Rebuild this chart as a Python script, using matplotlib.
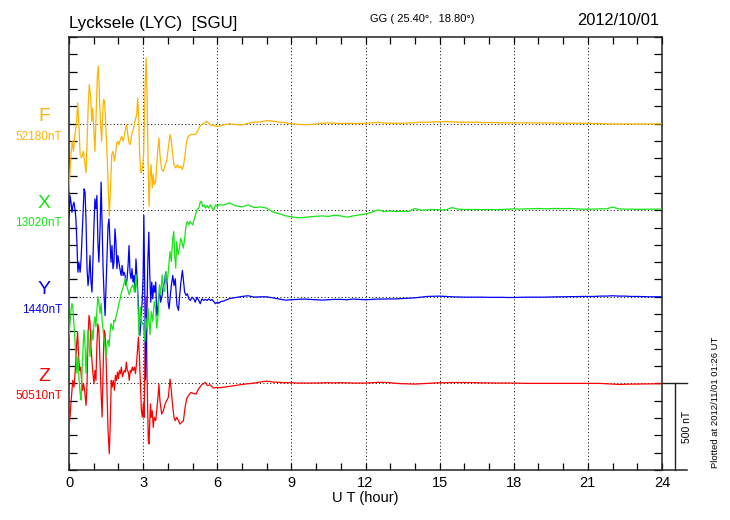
import numpy as np
import matplotlib
matplotlib.use("Agg")
import matplotlib.pyplot as plt
from matplotlib.transforms import blended_transform_factory

plt.rcParams['font.family'] = ['Liberation Sans', 'DejaVu Sans']

# --- data (nT deviation from each component's base value) ---
components = ["F", "X", "Y", "Z"]
base_labels = ["52180nT", "13020nT", "1440nT", "50510nT"]
colors = ["#FFB300", "#14E614", "#0000FF", "#FF0000"]
offsets = [1500, 1000, 500, 0]

f_hours = [0.00, 0.08, 0.13, 0.18, 0.24, 0.31, 0.35, 0.40, 0.45, 0.51, 0.58, 0.65, 0.69,
           0.74, 0.78, 0.82, 0.88, 0.92, 0.96, 1.01, 1.05, 1.09, 1.15, 1.19, 1.23, 1.27,
           1.32, 1.36, 1.40, 1.44, 1.48, 1.54, 1.59, 1.63, 1.69, 1.73, 1.78, 1.84, 1.88,
           1.93, 1.97, 2.02, 2.08, 2.13, 2.20, 2.27, 2.33, 2.38, 2.43, 2.48, 2.54, 2.60,
           2.67, 2.74, 2.78, 2.82, 2.86, 2.91, 2.97, 3.02, 3.08, 3.12, 3.16, 3.20, 3.24,
           3.28, 3.32, 3.37, 3.41, 3.45, 3.51, 3.55, 3.59, 3.64, 3.68, 3.75, 3.82, 3.89,
           3.95, 4.02, 4.09, 4.13, 4.18, 4.25, 4.32, 4.39, 4.45, 4.52, 4.59, 4.64, 4.70,
           4.76, 4.83, 4.94, 5.03, 5.13, 5.24, 5.30, 5.37, 5.48, 5.57, 5.64, 5.71, 5.78,
           5.84, 5.91, 6.05]
f_vals = [-390, -179, -102, -160, -63, 13, 119, -6, -179, -198, -160, -237, -285,
          -63, 110, 225, 148, 13, 90, -44, -160, 13, 283, 331, 167, 13,
          -102, 52, 138, 129, 13, -179, -371, -535, -333, -179, -160, -217, -179,
          -112, -102, -121, -92, -73, -102, -44, -6, -63, -112, -121, -63, -35,
          13, 52, 148, 33, -179, -285, -265, -179, 206, 379, 167, -217, -477,
          -313, -237, -371, -294, -352, -333, -237, -160, -83, -179, -265, -275, -237,
          -217, -140, -63, -83, -160, -237, -256, -237, -256, -246, -265, -237, -179,
          -102, -73, -63, -63, -60, -35, -15, -6, 4, 13, 4, -6, -12,
          -6, -15, -15]

x_hours = [0.00, 0.04, 0.08, 0.12, 0.16, 0.20, 0.24, 0.28, 0.32, 0.36, 0.40, 0.45, 0.49,
           0.53, 0.57, 0.61, 0.65, 0.69, 0.73, 0.77, 0.81, 0.85, 0.89, 0.93, 0.97, 1.01,
           1.05, 1.09, 1.13, 1.17, 1.21, 1.26, 1.30, 1.34, 1.38, 1.42, 1.46, 1.50, 1.54,
           1.58, 1.62, 1.66, 1.70, 1.74, 1.78, 1.82, 1.86, 1.90, 1.94, 1.98, 2.02, 2.06,
           2.11, 2.15, 2.20, 2.28, 2.36, 2.44, 2.51, 2.58, 2.65, 2.71, 2.78, 2.83, 2.89,
           2.94, 3.00, 3.07, 3.11, 3.17, 3.20, 3.28, 3.33, 3.39, 3.45, 3.50, 3.55, 3.61,
           3.66, 3.71, 3.77, 3.82, 3.87, 3.92, 3.98, 4.03, 4.09, 4.14, 4.20, 4.24, 4.28,
           4.32, 4.36, 4.41, 4.47, 4.52, 4.57, 4.63, 4.68, 4.74, 4.79, 4.85, 4.90, 4.95,
           5.01, 5.06, 5.12, 5.18, 5.25, 5.32, 5.36, 5.41, 5.47, 5.52, 5.59, 5.65, 5.72,
           5.79, 5.86, 5.93, 6.00, 6.06]
x_vals = [-731, -654, -577, -538, -567, -654, -750, -846, -942, -846, -962, -1058, -1096,
          -923, -788, -692, -788, -942, -808, -692, -750, -846, -788, -692, -750, -654,
          -615, -673, -577, -500, -538, -596, -538, -635, -692, -750, -788, -846, -769,
          -750, -788, -712, -654, -673, -692, -635, -644, -615, -596, -567, -538, -519,
          -481, -462, -440, -392, -450, -488, -450, -431, -470, -373, -488, -719, -560,
          -640, -662, -758, -623, -700, -565, -719, -585, -642, -527, -565, -681, -604,
          -431, -488, -373, -450, -469, -354, -412, -335, -238, -296, -162, -123, -258,
          -335, -181, -258, -219, -162, -181, -219, -162, -85, -65, -85, -65, -75,
          -85, -56, -27, 2, 12, 50, 50, 21, 31, 12, 27, 12, 31,
          12, 2, 31, 21, 31]

y_hours = [0.00, 0.04, 0.08, 0.12, 0.16, 0.20, 0.24, 0.28, 0.32, 0.36, 0.40, 0.45, 0.49,
           0.53, 0.57, 0.61, 0.65, 0.69, 0.73, 0.77, 0.81, 0.85, 0.89, 0.93, 0.97, 1.01,
           1.05, 1.09, 1.13, 1.17, 1.21, 1.26, 1.30, 1.34, 1.38, 1.42, 1.46, 1.50, 1.54,
           1.58, 1.62, 1.66, 1.70, 1.74, 1.78, 1.82, 1.86, 1.90, 1.94, 1.98, 2.02, 2.06,
           2.11, 2.15, 2.19, 2.23, 2.27, 2.31, 2.35, 2.39, 2.43, 2.47, 2.51, 2.55, 2.59,
           2.63, 2.67, 2.71, 2.75, 2.79, 2.83, 2.87, 2.91, 2.96, 3.00, 3.03, 3.07, 3.10,
           3.14, 3.19, 3.23, 3.27, 3.31, 3.35, 3.39, 3.43, 3.47, 3.51, 3.55, 3.59, 3.63,
           3.67, 3.71, 3.77, 3.82, 3.87, 3.91, 3.97, 4.01, 4.05, 4.09, 4.14, 4.20, 4.25,
           4.30, 4.37, 4.43, 4.48, 4.53, 4.59, 4.64, 4.68, 4.74, 4.79, 4.85, 4.91, 4.98,
           5.05, 5.11, 5.18, 5.25, 5.31, 5.38, 5.45, 5.52, 5.59, 5.65, 5.72, 5.79, 5.86,
           5.93, 6.00, 6.06, 6.14]
y_vals = [460, 585, 546, 488, 527, 546, 508, 450, 315, 142, 200, 142, 219,
          354, 488, 623, 604, 431, 162, 65, 123, 238, 85, 27, 219, 411,
          565, 508, 585, 315, 200, 411, 662, 411, 162, 8, -108, 65, 219,
          411, 450, 315, 200, 296, 162, 200, 392, 315, 162, 238, 200, 162,
          123, 181, 123, 142, 123, 65, 104, 181, 296, 142, 104, 162, 85,
          123, 27, 219, 123, 8, -127, -223, -146, -31, 123, 470, 0, -480,
          -200, 200, 373, 123, -31, 85, -12, 65, 27, 85, -108, -69, -12,
          46, -31, 8, 65, 85, 142, 85, -31, -69, -12, 65, 123, 65,
          104, -50, -79, 8, 85, 152, 85, 27, 8, 17, -12, -21, -2,
          -12, -31, -2, -21, -40, -12, -21, -15, -21, -12, -21, -15, -27,
          -40, -31, -37, -27]

z_hours = [0.00, 0.04, 0.09, 0.15, 0.20, 0.26, 0.31, 0.35, 0.39, 0.43, 0.47, 0.51, 0.55,
           0.59, 0.63, 0.69, 0.73, 0.77, 0.81, 0.85, 0.89, 0.93, 0.97, 1.01, 1.05, 1.09,
           1.13, 1.17, 1.21, 1.26, 1.30, 1.34, 1.38, 1.42, 1.46, 1.50, 1.54, 1.58, 1.63,
           1.67, 1.71, 1.75, 1.79, 1.84, 1.88, 1.92, 1.96, 2.00, 2.04, 2.08, 2.12, 2.16,
           2.20, 2.24, 2.28, 2.32, 2.36, 2.40, 2.44, 2.48, 2.52, 2.56, 2.60, 2.65, 2.69,
           2.73, 2.77, 2.81, 2.85, 2.89, 2.93, 2.97, 3.01, 3.04, 3.08, 3.12, 3.16, 3.21,
           3.24, 3.27, 3.30, 3.33, 3.37, 3.41, 3.45, 3.51, 3.56, 3.60, 3.64, 3.68, 3.75,
           3.82, 3.89, 3.95, 4.02, 4.09, 4.14, 4.20, 4.25, 4.30, 4.36, 4.43, 4.49, 4.56,
           4.63, 4.70, 4.76, 4.83, 4.94, 5.03, 5.14, 5.24, 5.37, 5.51, 5.61, 5.71, 5.84,
           5.98, 6.10]
z_vals = [-252, -194, -98, 17, -21, 85, 229, 296, 152, 75, 94, 17, -40,
          -2, -40, -127, -2, 267, 392, 354, 210, 133, 56, -2, 75, 17,
          229, 344, 306, 94, -60, -194, 75, 306, 287, 152, -60, -271, -406,
          -233, 17, -21, 17, -40, 46, 17, 65, 27, 75, 56, 94, 38,
          56, 75, 65, 123, 75, 65, 17, 75, 65, 94, 75, 94, 56,
          113, 190, 267, 152, -2, -156, -194, -117, -196, 200, 500, 35, -331,
          -350, -215, -119, -196, -158, -254, -196, -215, -138, -81, -4, -100, -177,
          -158, -119, -100, -81, 25, -42, -138, -196, -215, -196, -215, -235, -225,
          -215, -138, -90, -71, -52, -58, -62, -33, -8, 6, -13, -8, -27,
          -23, -25]

# quiet part of the day, sampled every 15 minutes
quiet_hours = np.arange(6.25, 24.01, 0.25)
f_quiet = [-8, 0, -6, -8, 2, 8, 10, 17, 14, 8, 6, -2, -4, -6, -6, -2, 2, 4,
           2, 0, 2, 0, 0, 2, 4, 8, 4, 2, 2, 2, 4, 6, 8, 8, 10, 10,
           12, 10, 8, 8, 8, 8, 6, 6, 6, 5, 4, 4, 4, 5, 4, 4, 4, 4,
           3, 3, 2, 2, 2, 2, 0, 0, -2, -2, -2, -2, -2, -2, -2, -2, -2, -2]
x_quiet = [30, 42, 25, 19, 30, 15, 19, 12, -10, -20, -32, -38, -44, -42, -38, -35, -33, -36,
           -29, -33, -40, -33, -27, -22, -12, 2, -8, -4, -8, -6, -8, 10, 0, 2, 4, 2,
           2, 15, 6, 4, 4, 4, 3, 4, 3, 4, 6, 8, 6, 8, 8, 10, 8, 9,
           10, 9, 10, 8, 6, 6, 6, 8, 8, 18, 8, 6, 6, 5, 5, 6, 6, 6]
y_quiet = [-25, -10, -4, 2, 6, -2, 0, 0, -6, -13, -19, -17, -15, -13, -15, -17, -19, -17,
           -15, -15, -17, -13, -15, -17, -15, -13, -13, -12, -12, -10, -8, -6, -2, 2, 3, 4,
           2, 0, -1, -2, -2, -2, -2, -3, -3, -3, -4, -4, -3, -2, -2, -2, -2, -1,
           0, 0, 1, 1, 2, 2, 2, 4, 4, 6, 4, 4, 2, 2, 1, 0, 0, 0]
z_quiet = [-22, -17, -12, -6, -2, 2, 8, 13, 8, 6, 4, 4, 2, 2, 2, 2, 3, 4,
           3, 4, 3, 2, 2, 2, 4, 6, 6, 4, 0, -2, -3, -4, -2, 0, 2, 4,
           4, 5, 5, 5, 5, 4, 3, 3, 2, 2, 2, 2, 1, 0, 0, 0, 0, 0,
           0, 0, 0, 0, 0, 0, 0, 0, -2, -4, -6, -5, -4, -4, -3, -3, -2, -2]

hour_ticks = [0, 3, 6, 9, 12, 15, 18, 21, 24]

series = [(f_hours, f_vals, f_quiet), (x_hours, x_vals, x_quiet),
          (y_hours, y_vals, y_quiet), (z_hours, z_vals, z_quiet)]

fig = plt.figure(figsize=(7.3, 5.2), dpi=100)
ax = fig.add_axes([69 / 730, 50 / 520, 593 / 730, 433 / 520])

dot = (0, (1, 2.5))
for h in hour_ticks[1:-1]:
    ax.axvline(h, color="black", lw=0.7, ls=dot, zorder=1)
for off in offsets:
    ax.axhline(off, color="black", lw=0.7, ls=dot, zorder=1)

# draw Z first so F ends on top like the original
for (hrs, vals, quiet), off, col in reversed(list(zip(series, offsets, colors))):
    t = np.concatenate([hrs, quiet_hours])
    v = np.concatenate([vals, quiet]) + off
    ax.plot(t, v, color=col, lw=0.9, zorder=3)

ax.set_xlim(0, 24)
ax.set_ylim(-500, 2000)
ax.set_xticks(hour_ticks)
ax.set_xticks(range(25), minor=True)
ax.set_yticks(np.arange(-500, 2001, 100))
ax.set_yticklabels([])
ax.tick_params(which="both", direction="in", top=True, right=True,
               length=5, width=0.9, labelsize=10.5, pad=4)
ax.tick_params(axis="y", length=6)
for sp in ax.spines.values():
    sp.set_linewidth(1.1)
    sp.set_color("#222222")
ax.set_xlabel("U T (hour)", fontsize=10.5, labelpad=1)

# component labels on the left
trans = blended_transform_factory(ax.transAxes, ax.transData)
for name, lab, col, off in zip(components, base_labels, colors, offsets):
    ax.text(-0.042, off + 40, name, color=col, fontsize=14, ha="center",
            va="center", transform=trans)
    ax.text(-0.012, off - 75, lab, color=col, fontsize=8.5, ha="right",
            va="center", transform=trans)

# 500 nT scale bar on the right
ax.plot([1.0, 1.042], [0, 0], color="#222222", lw=1.0, transform=trans, clip_on=False)
ax.plot([1.0, 1.042], [-500, -500], color="#222222", lw=1.1, transform=trans, clip_on=False)
ax.plot([1.022, 1.022], [0, -500], color="#222222", lw=1.0, transform=trans, clip_on=False)
ax.text(1.034, -250, "500 nT", rotation=90, fontsize=7.5, ha="left",
        va="center", transform=trans)

fig.text(69 / 730, 1 - 28 / 520, "Lycksele (LYC)  [SGU]", fontsize=12.2,
         ha="left", va="baseline")
fig.text(422 / 730, 1 - 22 / 520, "GG ( 25.40\u00b0,  18.80\u00b0)", fontsize=8,
         ha="center", va="baseline")
fig.text(659 / 730, 1 - 25 / 520, "2012/10/01", fontsize=11.8,
         ha="right", va="baseline")
fig.text(715 / 730, 1 - 468 / 520, "Plotted at 2012/11/01 01:26 UT", fontsize=6.8,
         rotation=90, ha="center", va="bottom")

fig.savefig("out.png", dpi=100)
